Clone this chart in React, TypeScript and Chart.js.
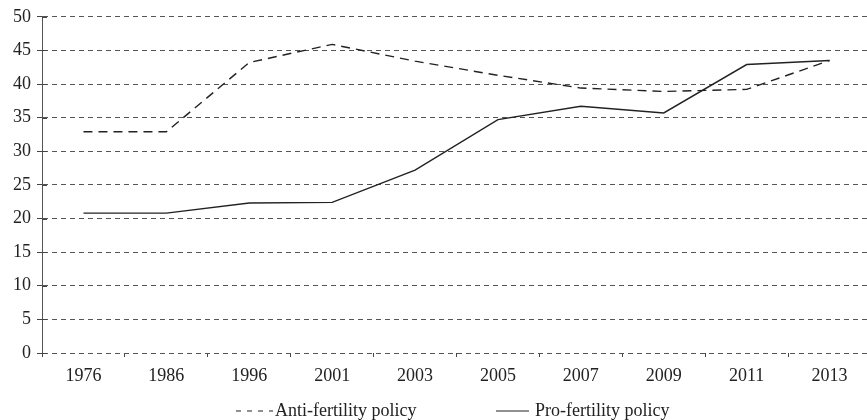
import React, { useEffect, useRef } from "react";
import { Chart, registerables } from "chart.js";

Chart.register(...registerables);

const categories = ["1976", "1986", "1996", "2001", "2003", "2005", "2007", "2009", "2011", "2013"];
const antiFertility = [32.9, 32.9, 43.2, 45.9, 43.4, 41.3, 39.4, 38.9, 39.2, 43.5];
const proFertility = [20.8, 20.8, 22.3, 22.4, 27.2, 34.7, 36.7, 35.7, 42.9, 43.5];
const seriesLabels = ["Anti-fertility policy", "Pro-fertility policy"];

const FONT = '"Liberation Serif", "Times New Roman", serif';

const legendPlugin = {
  id: "customLegend",
  afterDraw(chart: any) {
    const ctx = chart.ctx;
    const y = 411;
    ctx.save();
    ctx.strokeStyle = "#222";
    ctx.lineWidth = 1.2;
    ctx.setLineDash([5, 6]);
    ctx.beginPath();
    ctx.moveTo(236, y);
    ctx.lineTo(273, y);
    ctx.stroke();
    ctx.setLineDash([]);
    ctx.beginPath();
    ctx.moveTo(496, y);
    ctx.lineTo(529, y);
    ctx.stroke();
    ctx.fillStyle = "#222";
    ctx.font = `18px ${FONT}`;
    ctx.textBaseline = "middle";
    ctx.textAlign = "left";
    ctx.fillText(chart.data.datasets[0].label, 275, y);
    ctx.fillText(chart.data.datasets[1].label, 535, y);
    ctx.restore();
  },
};

// short tick stubs on the inner side of the y axis (the "+" look)
const yTickStubs = {
  id: "yTickStubs",
  afterDraw(chart: any) {
    const ctx = chart.ctx;
    const ys = chart.scales.y;
    ctx.save();
    ctx.strokeStyle = "#444";
    ctx.lineWidth = 1;
    ys.ticks.forEach((t: any) => {
      const py = Math.round(ys.getPixelForValue(t.value)) + 0.5;
      ctx.beginPath();
      ctx.moveTo(ys.right, py);
      ctx.lineTo(ys.right + 5, py);
      ctx.stroke();
    });
    ctx.restore();
  },
};

export default function App() {
  const canvasRef = useRef<HTMLCanvasElement | null>(null);

  useEffect(() => {
    if (!canvasRef.current) return;
    const chart = new Chart(canvasRef.current, {
      type: "line",
      data: {
        labels: categories,
        datasets: [
          {
            label: seriesLabels[0],
            data: antiFertility,
            borderColor: "#222",
            borderWidth: 1.4,
            borderDash: [9, 6],
            pointRadius: 0,
            tension: 0,
            fill: false,
          },
          {
            label: seriesLabels[1],
            data: proFertility,
            borderColor: "#222",
            borderWidth: 1.4,
            pointRadius: 0,
            tension: 0,
            fill: false,
          },
        ],
      },
      options: {
        animation: false,
        responsive: false,
        maintainAspectRatio: false,
        layout: { padding: { top: 16, right: 9, bottom: 35, left: 0 } },
        plugins: {
          legend: { display: false },
          tooltip: { enabled: false },
        },
        scales: {
          x: {
            offset: true,
            grid: {
              offset: true,
              drawOnChartArea: false,
              drawTicks: true,
              tickLength: 4,
              color: "#444",
            },
            border: { display: false },
            ticks: {
              color: "#222",
              font: { family: FONT, size: 18 },
              padding: 8,
              maxRotation: 0,
              autoSkip: false,
            },
            afterFit(scale: any) {
              scale.height = 32;
            },
          },
          y: {
            min: 0,
            max: 50,
            ticks: {
              stepSize: 5,
              color: "#222",
              font: { family: FONT, size: 18 },
              padding: 6,
            },
            grid: {
              color: "#555",
              lineWidth: 1,
              tickLength: 5,
              tickColor: "#444",
            },
            border: { display: true, color: "#555", dash: [5, 4] },
            afterFit(scale: any) {
              scale.width = 42;
            },
          },
        },
      },
      plugins: [
        legendPlugin,
        yTickStubs,
        {
          id: "gridDash",
          beforeDraw(chart: any) {
            const y = chart.options.scales.y;
            y.grid.borderDash = [5, 4];
          },
        },
      ],
    } as any);
    return () => chart.destroy();
  }, []);

  return (
    <div
      style={{
        position: "fixed",
        top: 0,
        left: 0,
        width: 867,
        height: 420,
        overflow: "hidden",
        background: "#fff",
      }}
    >
      <canvas ref={canvasRef} width={880} height={420} style={{ width: 880, height: 420 }} />
    </div>
  );
}
